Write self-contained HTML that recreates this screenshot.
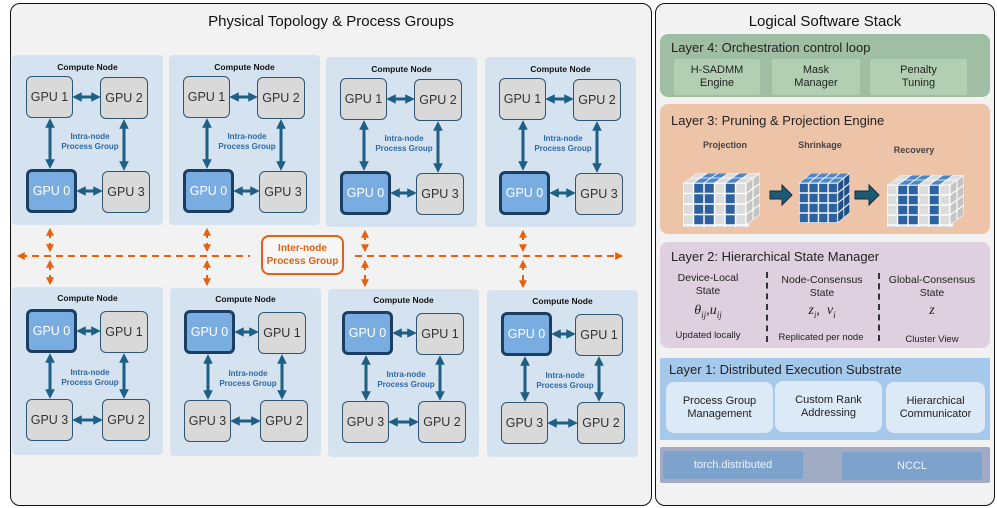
<!DOCTYPE html>
<html><head><meta charset="utf-8"><style>
*{box-sizing:border-box;margin:0;padding:0}
body{width:997px;height:508px;background:#fff;position:relative;font-family:"Liberation Sans","DejaVu Sans",sans-serif;overflow:hidden}
.abs{position:absolute}
.panel{position:absolute;background:#f2f2f2;border:1.5px solid #111;border-radius:10px}
.ptitle{position:absolute;left:0;right:0;text-align:center;font-size:15px;color:#111}
.node{position:absolute;width:151px;height:170px;background:#d5e2ef;border-radius:4px}
.node .t{position:absolute;left:0;right:0;text-align:center;font-size:8.5px;font-weight:bold;color:#111}
.gpu{position:absolute;background:#d9d9d9;border:1.5px solid #2e5572;border-radius:6px;font-size:12.5px;color:#333;display:flex;align-items:center;justify-content:center}
.g0{background:#79ace0;border:3px solid #1b3f63;color:#fff}
.intra{position:absolute;width:80px;text-align:center;font-size:8px;font-weight:bold;color:#2e6aa6;line-height:10px}
.node svg{position:absolute;left:0;top:0}
.layer{position:absolute;left:660px;width:330px;border-radius:8px}
.lt{position:absolute;left:11px;font-size:13px;color:#222}
.box{position:absolute;display:flex;align-items:center;justify-content:center;text-align:center;font-size:11px;color:#222;line-height:13px}
.sm{position:absolute;text-align:center;font-size:10px;color:#222;line-height:13px}
</style></head><body>

<div class="panel" style="left:10px;top:3px;width:642px;height:503px"></div>
<div class="ptitle" style="left:10px;width:642px;right:auto;top:13px">Physical Topology &amp; Process Groups</div>
<div class="panel" style="left:655px;top:3px;width:340px;height:503px"></div>
<div class="ptitle" style="left:655px;width:340px;right:auto;top:13px">Logical Software Stack</div>

<div class="node" style="left:12px;top:55px">
<div class="t" style="top:7px">Compute Node</div>
<div class="gpu" style="left:14px;top:21px;width:47px;height:42px">GPU 1</div>
<div class="gpu" style="left:88px;top:22px;width:48px;height:42px">GPU 2</div>
<div class="gpu g0" style="left:14px;top:114px;width:51px;height:44px">GPU 0</div>
<div class="gpu" style="left:90px;top:116px;width:48px;height:42px">GPU 3</div>
<div class="intra" style="left:38px;top:77px">Intra-node<br>Process Group</div>
<svg width="151" height="170"><defs><marker id="a" viewBox="0 0 10 10" refX="6" refY="5" markerWidth="3.2" markerHeight="3.2" orient="auto-start-reverse"><path d="M0,0L10,5L0,10z" fill="#1d5f85"/></marker></defs>
<g stroke="#1d5f85" stroke-width="3" marker-start="url(#a)" marker-end="url(#a)"><line x1="38" y1="67" x2="38" y2="110"/><line x1="112" y1="68" x2="112" y2="112"/><line x1="64" y1="42" x2="85" y2="42"/><line x1="68" y1="136" x2="87" y2="136"/></g></svg>
</div>
<div class="node" style="left:169px;top:55px">
<div class="t" style="top:7px">Compute Node</div>
<div class="gpu" style="left:14px;top:21px;width:47px;height:42px">GPU 1</div>
<div class="gpu" style="left:88px;top:22px;width:48px;height:42px">GPU 2</div>
<div class="gpu g0" style="left:14px;top:114px;width:51px;height:44px">GPU 0</div>
<div class="gpu" style="left:90px;top:116px;width:48px;height:42px">GPU 3</div>
<div class="intra" style="left:38px;top:77px">Intra-node<br>Process Group</div>
<svg width="151" height="170"><g stroke="#1d5f85" stroke-width="3" marker-start="url(#a)" marker-end="url(#a)"><line x1="38" y1="67" x2="38" y2="110"/><line x1="112" y1="68" x2="112" y2="112"/><line x1="64" y1="42" x2="85" y2="42"/><line x1="68" y1="136" x2="87" y2="136"/></g></svg>
</div>
<div class="node" style="left:326px;top:57px">
<div class="t" style="top:7px">Compute Node</div>
<div class="gpu" style="left:14px;top:21px;width:47px;height:42px">GPU 1</div>
<div class="gpu" style="left:88px;top:22px;width:48px;height:42px">GPU 2</div>
<div class="gpu g0" style="left:14px;top:114px;width:51px;height:44px">GPU 0</div>
<div class="gpu" style="left:90px;top:116px;width:48px;height:42px">GPU 3</div>
<div class="intra" style="left:38px;top:77px">Intra-node<br>Process Group</div>
<svg width="151" height="170"><g stroke="#1d5f85" stroke-width="3" marker-start="url(#a)" marker-end="url(#a)"><line x1="38" y1="67" x2="38" y2="110"/><line x1="112" y1="68" x2="112" y2="112"/><line x1="64" y1="42" x2="85" y2="42"/><line x1="68" y1="136" x2="87" y2="136"/></g></svg>
</div>
<div class="node" style="left:485px;top:57px">
<div class="t" style="top:7px">Compute Node</div>
<div class="gpu" style="left:14px;top:21px;width:47px;height:42px">GPU 1</div>
<div class="gpu" style="left:88px;top:22px;width:48px;height:42px">GPU 2</div>
<div class="gpu g0" style="left:14px;top:114px;width:51px;height:44px">GPU 0</div>
<div class="gpu" style="left:90px;top:116px;width:48px;height:42px">GPU 3</div>
<div class="intra" style="left:38px;top:77px">Intra-node<br>Process Group</div>
<svg width="151" height="170"><g stroke="#1d5f85" stroke-width="3" marker-start="url(#a)" marker-end="url(#a)"><line x1="38" y1="67" x2="38" y2="110"/><line x1="112" y1="68" x2="112" y2="112"/><line x1="64" y1="42" x2="85" y2="42"/><line x1="68" y1="136" x2="87" y2="136"/></g></svg>
</div>

<div class="node" style="left:12px;top:287px;height:168px">
<div class="t" style="top:6px">Compute Node</div>
<div class="gpu g0" style="left:14px;top:22px;width:51px;height:44px">GPU 0</div>
<div class="gpu" style="left:88px;top:24px;width:48px;height:42px">GPU 1</div>
<div class="gpu" style="left:14px;top:112px;width:47px;height:42px">GPU 3</div>
<div class="gpu" style="left:90px;top:112px;width:48px;height:42px">GPU 2</div>
<div class="intra" style="left:38px;top:81px">Intra-node<br>Process Group</div>
<svg width="151" height="170"><g stroke="#1d5f85" stroke-width="3" marker-start="url(#a)" marker-end="url(#a)"><line x1="38" y1="70" x2="38" y2="108"/><line x1="112" y1="70" x2="112" y2="108"/><line x1="68" y1="44" x2="85" y2="44"/><line x1="64" y1="133" x2="87" y2="133"/></g></svg>
</div>
<div class="node" style="left:170px;top:288px;height:168px">
<div class="t" style="top:6px">Compute Node</div>
<div class="gpu g0" style="left:14px;top:22px;width:51px;height:44px">GPU 0</div>
<div class="gpu" style="left:88px;top:24px;width:48px;height:42px">GPU 1</div>
<div class="gpu" style="left:14px;top:112px;width:47px;height:42px">GPU 3</div>
<div class="gpu" style="left:90px;top:112px;width:48px;height:42px">GPU 2</div>
<div class="intra" style="left:38px;top:81px">Intra-node<br>Process Group</div>
<svg width="151" height="170"><g stroke="#1d5f85" stroke-width="3" marker-start="url(#a)" marker-end="url(#a)"><line x1="38" y1="70" x2="38" y2="108"/><line x1="112" y1="70" x2="112" y2="108"/><line x1="68" y1="44" x2="85" y2="44"/><line x1="64" y1="133" x2="87" y2="133"/></g></svg>
</div>
<div class="node" style="left:328px;top:289px;height:168px">
<div class="t" style="top:6px">Compute Node</div>
<div class="gpu g0" style="left:14px;top:22px;width:51px;height:44px">GPU 0</div>
<div class="gpu" style="left:88px;top:24px;width:48px;height:42px">GPU 1</div>
<div class="gpu" style="left:14px;top:112px;width:47px;height:42px">GPU 3</div>
<div class="gpu" style="left:90px;top:112px;width:48px;height:42px">GPU 2</div>
<div class="intra" style="left:38px;top:81px">Intra-node<br>Process Group</div>
<svg width="151" height="170"><g stroke="#1d5f85" stroke-width="3" marker-start="url(#a)" marker-end="url(#a)"><line x1="38" y1="70" x2="38" y2="108"/><line x1="112" y1="70" x2="112" y2="108"/><line x1="68" y1="44" x2="85" y2="44"/><line x1="64" y1="133" x2="87" y2="133"/></g></svg>
</div>
<div class="node" style="left:487px;top:290px;height:167px">
<div class="t" style="top:6px">Compute Node</div>
<div class="gpu g0" style="left:14px;top:22px;width:51px;height:44px">GPU 0</div>
<div class="gpu" style="left:88px;top:24px;width:48px;height:42px">GPU 1</div>
<div class="gpu" style="left:14px;top:112px;width:47px;height:42px">GPU 3</div>
<div class="gpu" style="left:90px;top:112px;width:48px;height:42px">GPU 2</div>
<div class="intra" style="left:38px;top:81px">Intra-node<br>Process Group</div>
<svg width="151" height="170"><g stroke="#1d5f85" stroke-width="3" marker-start="url(#a)" marker-end="url(#a)"><line x1="38" y1="70" x2="38" y2="108"/><line x1="112" y1="70" x2="112" y2="108"/><line x1="68" y1="44" x2="85" y2="44"/><line x1="64" y1="133" x2="87" y2="133"/></g></svg>
</div>

<svg class="abs" style="left:0;top:0" width="997" height="508">
<defs><marker id="o" viewBox="0 0 10 10" refX="6" refY="5" markerWidth="4" markerHeight="4" orient="auto-start-reverse"><path d="M0,0L10,5L0,10z" fill="#e8600f"/></marker></defs>
<g stroke="#e8600f" stroke-width="2" stroke-dasharray="7,5" fill="none">
<line x1="20" y1="256" x2="250" y2="256" marker-start="url(#o)"/>
<line x1="355" y1="256" x2="620" y2="256" marker-end="url(#o)"/>
<g marker-start="url(#o)" marker-end="url(#o)">
<line x1="50" y1="231" x2="50" y2="249"/><line x1="50" y1="263" x2="50" y2="282"/>
<line x1="207" y1="231" x2="207" y2="249"/><line x1="207" y1="263" x2="207" y2="283"/>
<line x1="365" y1="233" x2="365" y2="249"/><line x1="365" y1="263" x2="365" y2="284"/>
<line x1="523" y1="233" x2="523" y2="249"/><line x1="523" y1="263" x2="523" y2="285"/>
</g></g>
<rect x="262" y="236" width="81" height="38" rx="7" fill="#f7f7f7" stroke="#e8600f" stroke-width="2"/>
<text x="302.5" y="251" text-anchor="middle" font-size="10" font-weight="bold" fill="#e8600f" font-family="Liberation Sans,sans-serif">Inter-node</text>
<text x="302.5" y="264" text-anchor="middle" font-size="10" font-weight="bold" fill="#e8600f" font-family="Liberation Sans,sans-serif">Process Group</text>
</svg>

<div class="layer" style="top:34px;height:63px;background:#9fbea3">
<div class="lt" style="top:6px">Layer 4: Orchestration control loop</div>
<div class="box" style="left:14px;top:25px;width:86px;height:36px;background:#b2cfb3;border-radius:2px">H-SADMM<br>Engine</div>
<div class="box" style="left:112px;top:25px;width:88px;height:36px;background:#b2cfb3;border-radius:2px">Mask<br>Manager</div>
<div class="box" style="left:210px;top:25px;width:97px;height:36px;background:#b2cfb3;border-radius:2px">Penalty<br>Tuning</div>
</div>

<div class="layer" style="top:104px;height:130px;background:#eec4a9">
<div class="lt" style="top:9px">Layer 3: Pruning &amp; Projection Engine</div>
<div class="sm" style="left:20px;top:35px;width:90px;font-size:9px;font-weight:bold;color:#444">Projection</div>
<div class="sm" style="left:115px;top:35px;width:90px;font-size:9px;font-weight:bold;color:#444">Shrinkage</div>
<div class="sm" style="left:209px;top:40px;width:90px;font-size:9px;font-weight:bold;color:#444">Recovery</div>
</div>
<svg class="abs" style="left:0;top:0" width="997" height="508">
<defs>
<pattern id="pg" width="10" height="10" patternUnits="userSpaceOnUse"><rect width="10" height="10" fill="#dcdcdc" stroke="#fff" stroke-width="1.4"/></pattern>
<pattern id="pb" width="10" height="10" patternUnits="userSpaceOnUse"><rect width="10" height="10" fill="#2d62a0" stroke="#fff" stroke-width="1.4"/></pattern>
<pattern id="pgs" width="10" height="10" patternUnits="userSpaceOnUse"><rect width="10" height="10" fill="#c4c4c4" stroke="#fff" stroke-width="1.4"/></pattern>
<pattern id="pbs" width="10" height="10" patternUnits="userSpaceOnUse"><rect width="10" height="10" fill="#1f4f86" stroke="#fff" stroke-width="1.4"/></pattern>
<pattern id="pbt" width="10" height="10" patternUnits="userSpaceOnUse"><rect width="10" height="10" fill="#4e86c4" stroke="#fff" stroke-width="1.4"/></pattern>
</defs>
<g transform="translate(683,183)">
<rect width="63" height="42" fill="url(#pg)" transform="scale(1.05,1.05)"/>
<g transform="scale(1.05,1.05)"><rect x="10" width="20" height="40" fill="url(#pb)"/><rect x="40" width="10" height="40" fill="url(#pb)"/></g>
<g transform="matrix(1.05,0,0.7,-0.5,0,0)"><rect width="60" height="20" fill="url(#pg)"/><rect x="10" width="20" height="20" fill="url(#pbt)"/><rect x="40" width="10" height="20" fill="url(#pbt)"/></g>
<g transform="matrix(0.7,-0.5,0,1.05,63,0)"><rect width="20" height="40" fill="url(#pgs)"/></g>
</g>
<g transform="translate(799,183)">
<g transform="scale(0.97,1.0)"><rect width="40" height="40" fill="url(#pb)"/></g>
<g transform="matrix(0.97,0,0.6,-0.5,0,0)"><rect width="40" height="20" fill="url(#pbt)"/></g>
<g transform="matrix(0.6,-0.5,0,1.0,38.8,0)"><rect width="20" height="40" fill="url(#pbs)"/></g>
</g>
<g transform="translate(887,185)">
<rect width="63" height="42" fill="url(#pg)" transform="scale(1.05,1.0)"/>
<g transform="scale(1.05,1.0)"><rect x="10" width="20" height="40" fill="url(#pb)"/><rect x="40" width="10" height="40" fill="url(#pb)"/></g>
<g transform="matrix(1.05,0,0.7,-0.5,0,0)"><rect width="60" height="20" fill="url(#pg)"/><rect x="10" width="20" height="20" fill="url(#pbt)"/><rect x="40" width="10" height="20" fill="url(#pbt)"/></g>
<g transform="matrix(0.7,-0.5,0,1.0,63,0)"><rect width="20" height="40" fill="url(#pgs)"/></g>
</g>
<path d="M770,191h12v-6l10,10l-10,10v-6h-12z" fill="#1e5a74" stroke="#0f2f3d" stroke-width="1"/>
<path d="M855,191h14v-6l10,10l-10,10v-6h-14z" fill="#1e5a74" stroke="#0f2f3d" stroke-width="1"/>
</svg>

<div class="layer" style="top:242px;height:106px;background:#ded0de">
<div class="lt" style="top:7px">Layer 2: Hierarchical State Manager</div>
<div class="sm" style="left:8px;top:30px;width:80px;font-size:10.5px">Device-Local<br>State</div>
<div class="sm" style="left:112px;top:32px;width:100px;font-size:10.5px">Node-Consensus<br>State</div>
<div class="sm" style="left:218px;top:32px;width:108px;font-size:10.5px">Global-Consensus<br>State</div>
<div class="sm" style="left:8px;top:62px;width:80px;font-family:'Liberation Serif',serif;font-style:italic;font-size:14px">θ<sub style="font-size:9px">ij</sub>,u<sub style="font-size:9px">ij</sub></div>
<div class="sm" style="left:112px;top:62px;width:100px;font-family:'Liberation Serif',serif;font-style:italic;font-size:14px">z<sub style="font-size:9px">i</sub>,&nbsp; v<sub style="font-size:9px">i</sub></div>
<div class="sm" style="left:218px;top:62px;width:108px;font-family:'Liberation Serif',serif;font-style:italic;font-size:14px">z</div>
<div class="sm" style="left:4px;top:87px;width:88px;font-size:9.5px">Updated locally</div>
<div class="sm" style="left:105px;top:89px;width:112px;font-size:9.5px">Replicated per node</div>
<div class="sm" style="left:218px;top:91px;width:108px;font-size:9.5px">Cluster View</div>
<div class="abs" style="left:106px;top:30px;height:70px;border-left:2px dashed #333"></div>
<div class="abs" style="left:218px;top:31px;height:68px;border-left:2px dashed #333"></div>
</div>

<div class="layer" style="top:358px;height:82px;background:#a6c8eb;border-radius:0">
<div class="lt" style="top:4px;left:9px">Layer 1: Distributed Execution Substrate</div>
<div class="box" style="left:6px;top:24px;width:107px;height:51px;background:#dce9f6;border-radius:8px">Process Group<br>Management</div>
<div class="box" style="left:115px;top:23px;width:107px;height:51px;background:#dce9f6;border-radius:8px">Custom Rank<br>Addressing</div>
<div class="box" style="left:226px;top:24px;width:99px;height:51px;background:#dce9f6;border-radius:8px">Hierarchical<br>Communicator</div>
</div>

<div class="layer" style="top:447px;height:36px;background:#a1abc4;border-radius:2px">
<div class="box" style="left:3px;top:4px;width:140px;height:28px;background:#7da2cc;border-radius:3px;color:#eef3fa;font-size:11px">torch.distributed</div>
<div class="box" style="left:182px;top:5px;width:140px;height:28px;background:#7da2cc;border-radius:3px;color:#eef3fa;font-size:11px">NCCL</div>
</div>

</body></html>
